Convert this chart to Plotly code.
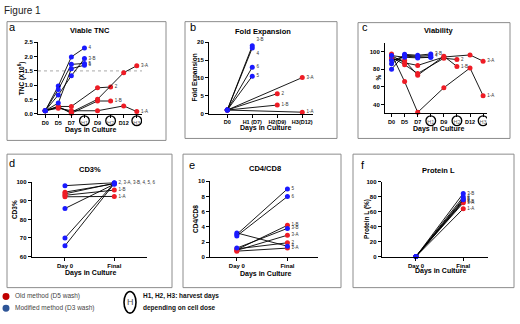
import plotly.graph_objects as go

W, H = 520, 324
def px(x): return x / W
def py(y): return 1 - y / H

# ---------------- data ----------------
series = ["1-A", "1-B", "2", "3-A", "3-B", "4", "5", "6"]
method = ["old", "old", "old", "old", "mod", "mod", "mod", "mod"]

tnc_days = ["D0", "D5", "D7", "H1", "D9", "H2", "D12", "H3"]
tnc = {
    "1-A": [0.11, 0.20, 0.11, None, 0.11, None, 0.28, 0.08],
    "1-B": [0.11, 0.26, 0.02, None, 0.45, 0.45, None, None],
    "2":   [0.11, 0.26, 0.26, None, 0.91, 0.94, None, None],
    "3-A": [0.11, 0.23, 0.06, None, 0.51, None, 1.44, 1.68],
    "3-B": [0.11, 0.66, 1.33, 1.93],
    "4":   [0.11, 0.97, 1.99, 2.30],
    "5":   [0.11, 0.85, 1.73, 1.76],
    "6":   [0.11, 0.38, 1.58, 1.70],
}
tnc_threshold = 1.5

fold_days = ["D0", "H1 (D7)", "H2(D9)", "H3(D12)"]
fold = {
    "1-A": [1.0, None, None, 0.4],
    "1-B": [1.0, None, 2.4],
    "2":   [1.0, None, 5.6],
    "3-A": [1.0, None, None, 10.1],
    "3-B": [1.0, 19.0],
    "4":   [1.0, 18.4],
    "5":   [1.0, 10.5],
    "6":   [1.0, 13.0],
}

via = {
    "1-A": [97.4, 66.0, 31.0, None, 59.0, None, 81.5, 50.0],
    "1-B": [91.8, 90.0, 73.3, None, 94.8, 83.3, None, None],
    "2":   [93.7, 85.2, 75.2, None, 92.6, 91.1, None, None],
    "3-A": [95.6, 87.4, 84.4, None, 94.0, None, 96.3, 89.3],
    "3-B": [80.0, 97.0, 96.0, 97.4],
    "4":   [86.3, 96.0, 95.0, 95.6],
    "5":   [90.0, 95.0, 94.0, 93.7],
    "6":   [95.6, 93.7, 93.0, 93.7],
}

pair_days = ["Day 0", "Final"]
cd3_day0  = [92.2, 93.0, 94.7, 93.8, 70.0, 98.2, 65.8, 85.9]
cd3_final = [92.4, 95.8, 99.2, 99.5, 99.6, 99.8, 99.3, 99.0]
cd3_labels = ["1-A", "1-B", "", "", "", "2, 3-A, 3-B, 4, 5, 6", "", ""]

cd48_day0  = [0.8, 1.0, 1.1, 0.9, 1.2, 3.2, 3.0, 2.8]
cd48_final = [1.2, 4.2, 1.9, 2.9, 3.8, 1.45, 9.0, 8.0]

protl_day0  = [0, 0, 0, 0, 0, 0, 0, 0]
protl_final = [64.0, 73.5, 74.5, 72.0, 84.6, 80.0, 77.5, 76.0]

RED, BLUE = "#ee1c25", "#1a1aff"
FONT = "Liberation Sans, Arial, sans-serif"

fig = go.Figure()

def add_series(xcats, ys, name, meth, axis, label, tpos="middle right"):
    n = len(ys)
    last = max(i for i, v in enumerate(ys) if v is not None)
    txt = [""] * n
    txt[last] = label
    fig.add_trace(go.Scatter(
        x=xcats[:n], y=ys, mode="lines+markers+text", connectgaps=True,
        line=dict(color="black", width=0.9),
        marker=dict(color=RED if meth == "old" else BLUE, size=5),
        text=txt, textposition=tpos,
        textfont=dict(size=4.5, color="#333", family=FONT),
        cliponaxis=False, showlegend=False, hoverinfo="skip",
        xaxis="x" + axis, yaxis="y" + axis, name=name))

# panel a
for s, m in zip(series, method):
    add_series(tnc_days, tnc[s], s, m, "", s)
# panel b
fold_pos = {"3-B": "top right", "4": "bottom right"}
for s, m in zip(series, method):
    add_series(fold_days, fold[s], s, m, "2", s, fold_pos.get(s, "middle right"))
# panel c
via_lab = {"3-B": "3-B", "4": "4", "5": "", "6": ""}
for s, m in zip(series, method):
    add_series(tnc_days, via[s], s, m, "3", via_lab.get(s, s))
# panel d
for i, (s, m) in enumerate(zip(series, method)):
    add_series(pair_days, [cd3_day0[i], cd3_final[i]], s, m, "4", cd3_labels[i])
# panel e
for i, (s, m) in enumerate(zip(series, method)):
    add_series(pair_days, [cd48_day0[i], cd48_final[i]], s, m, "5", s)
# panel f
for i, (s, m) in enumerate(zip(series, method)):
    add_series(pair_days, [protl_day0[i], protl_final[i]], s, m, "6", s)

def circ_ticks(cats):
    out = []
    for c in cats:
        if c.startswith("H"):
            out.append("<span style='color:#666;font-weight:normal'>%s</span>" % c)
        else:
            out.append(c)
    return out

base_ax = dict(showline=True, linecolor="black", linewidth=1, ticks="outside",
               ticklen=3, tickwidth=1, tickcolor="black", showgrid=False,
               zeroline=False,
               tickfont=dict(size=6, family=FONT, color="black", weight="bold"))

def xax(dom, rng, cats, anchor, ticktext=None, fsize=6):
    d = dict(base_ax, domain=[px(dom[0]), px(dom[1])], range=rng, type="category",
             categoryorder="array", categoryarray=cats, anchor=anchor,
             tickmode="array", tickvals=cats, ticktext=ticktext or cats,
             tickfont=dict(size=fsize, family=FONT, color="black", weight="bold"))
    return d

def yax(dom, rng, dtick, anchor, fmt=None):
    d = dict(base_ax, domain=[py(dom[1]), py(dom[0])], range=rng, dtick=dtick,
             anchor=anchor, tick0=0)
    if fmt:
        d["tickformat"] = fmt
    return d

layout = dict(
    width=W, height=H, margin=dict(l=0, r=0, t=0, b=0),
    paper_bgcolor="white", plot_bgcolor="white",
    font=dict(family=FONT, color="black"),
    xaxis=xax((38, 142), [-0.55, 7.4], tnc_days, "y", circ_ticks(tnc_days), 5.5),
    yaxis=yax((40, 113), [0, 2.5], 0.5, "x", ".1f"),
    xaxis2=xax((209, 313), [-0.73, 3.43], fold_days, "y2", None, 5.5),
    yaxis2=yax((40, 112.7), [0, 20], 5, "x2"),
    xaxis3=xax((385, 487), [-0.5, 7.3], tnc_days, "y3", circ_ticks(tnc_days), 5.5),
    yaxis3=yax((40.7, 112.3), [30, 110], 20, "x3"),
    xaxis4=xax((31.7, 146.7), [-0.675, 1.657], pair_days, "y4"),
    yaxis4=yax((182.7, 258.3), [60, 100], 10, "x4"),
    xaxis5=xax((210, 318.3), [-0.53, 1.61], pair_days, "y5"),
    yaxis5=yax((181.7, 259), [0, 10], 2, "x5"),
    xaxis6=xax((381.7, 488.3), [-0.725, 1.53], pair_days, "y6"),
    yaxis6=yax((182.3, 258.3), [0, 100], 20, "x6"),
)
layout["yaxis3"]["tickvals"] = [40, 60, 80, 100]
layout["yaxis3"]["tickmode"] = "array"
fig.update_layout(**layout)

shapes = []
# panel frames
for (x0, y0, x1, y1) in [(7, 19, 166, 140), (185, 19, 337, 138), (358, 20, 510, 138),
                         (7, 154, 172, 290), (183, 154, 341, 290), (353, 154, 514, 290)]:
    shapes.append(dict(type="rect", xref="paper", yref="paper", x0=px(x0), x1=px(x1),
                       y0=py(y1), y1=py(y0), line=dict(color="#8c8c8c", width=1)))
# threshold line
shapes.append(dict(type="line", xref="x domain", yref="y", x0=0, x1=1,
                   y0=tnc_threshold, y1=tnc_threshold,
                   line=dict(color="#aaaaaa", width=1, dash="dot"), layer="below"))
# circles round harvest ticks
for xr in ["x", "x3"]:
    for i, c in enumerate(tnc_days):
        if c.startswith("H"):
            shapes.append(dict(type="circle", xref=xr, yref="paper",
                               x0=i - 0.37, x1=i + 0.37, y0=py(125), y1=py(115),
                               line=dict(color="black", width=1.3)))
# legend symbols
shapes.append(dict(type="circle", xref="paper", yref="paper", x0=px(2.5), x1=px(9.5),
                   y0=py(302.5), y1=py(295.5), fillcolor="#c00000", line=dict(width=0)))
shapes.append(dict(type="circle", xref="paper", yref="paper", x0=px(2.5), x1=px(9.5),
                   y0=py(314.5), y1=py(307.5), fillcolor="#2e5597", line=dict(width=0)))
shapes.append(dict(type="circle", xref="paper", yref="paper", x0=px(124), x1=px(136),
                   y0=py(316), y1=py(294), line=dict(color="black", width=1.6)))
fig.update_layout(shapes=shapes)

ann = []
def A(x, y, text, size, bold=False, angle=0, xanchor="center", color="#000000"):
    ann.append(dict(x=px(x), y=py(y), xref="paper", yref="paper", showarrow=False,
                    text=("<b>%s</b>" % text) if bold else text, textangle=angle,
                    xanchor=xanchor, yanchor="middle",
                    font=dict(size=size, family=FONT, color=color)))

A(2, 8, "Figure 1", 10, xanchor="left", color="#222222")
for x, y, t in [(12, 24, "a"), (193, 24, "b"), (365, 24, "c"),
                (12, 163, "d"), (192, 165, "e"), (363, 165, "f")]:
    A(x, y, t, 11)
for x, y, t in [(90, 28, "Viable TNC"), (263, 29, "Fold Expansion"), (438, 28, "Viability"),
                (90, 170, "CD3%"), (265, 169, "CD4/CD8"), (438, 171, "Protein L")]:
    A(x, y, t, 7.5, bold=True)
for x, y in [(90, 129), (265, 127), (438, 128), (90, 275.5), (265, 276), (440, 273.5)]:
    A(x, y, "Days in Culture", 7, bold=True)
for x, y, t in [(21.7, 77, "TNC (X10<sup>6</sup>)"), (195, 76, "Fold Expansion"),
                (379, 76, "%"), (14, 211, "CD3%"), (196, 220, "CD4/CD8"),
                (367, 220, "Protein L (%)")]:
    A(x, y, t, 6.5, bold=True, angle=-90)
A(13, 299, "Old method (D5 wash)", 6.5, xanchor="left", color="#444444")
A(13, 311, "Modified method (D3 wash)", 6.5, xanchor="left", color="#444444")
A(130, 305, "H", 9, color="#555555")
A(141, 299, "H1, H2, H3: harvest days", 6.5, bold=True, xanchor="left", color="#111111")
A(141, 311, "depending on cell dose", 6.5, bold=True, xanchor="left", color="#111111")
fig.update_layout(annotations=ann)

fig.write_html("out.html", config={"displayModeBar": False},
               post_script="document.body.style.margin='0';document.body.style.overflow='hidden';")
